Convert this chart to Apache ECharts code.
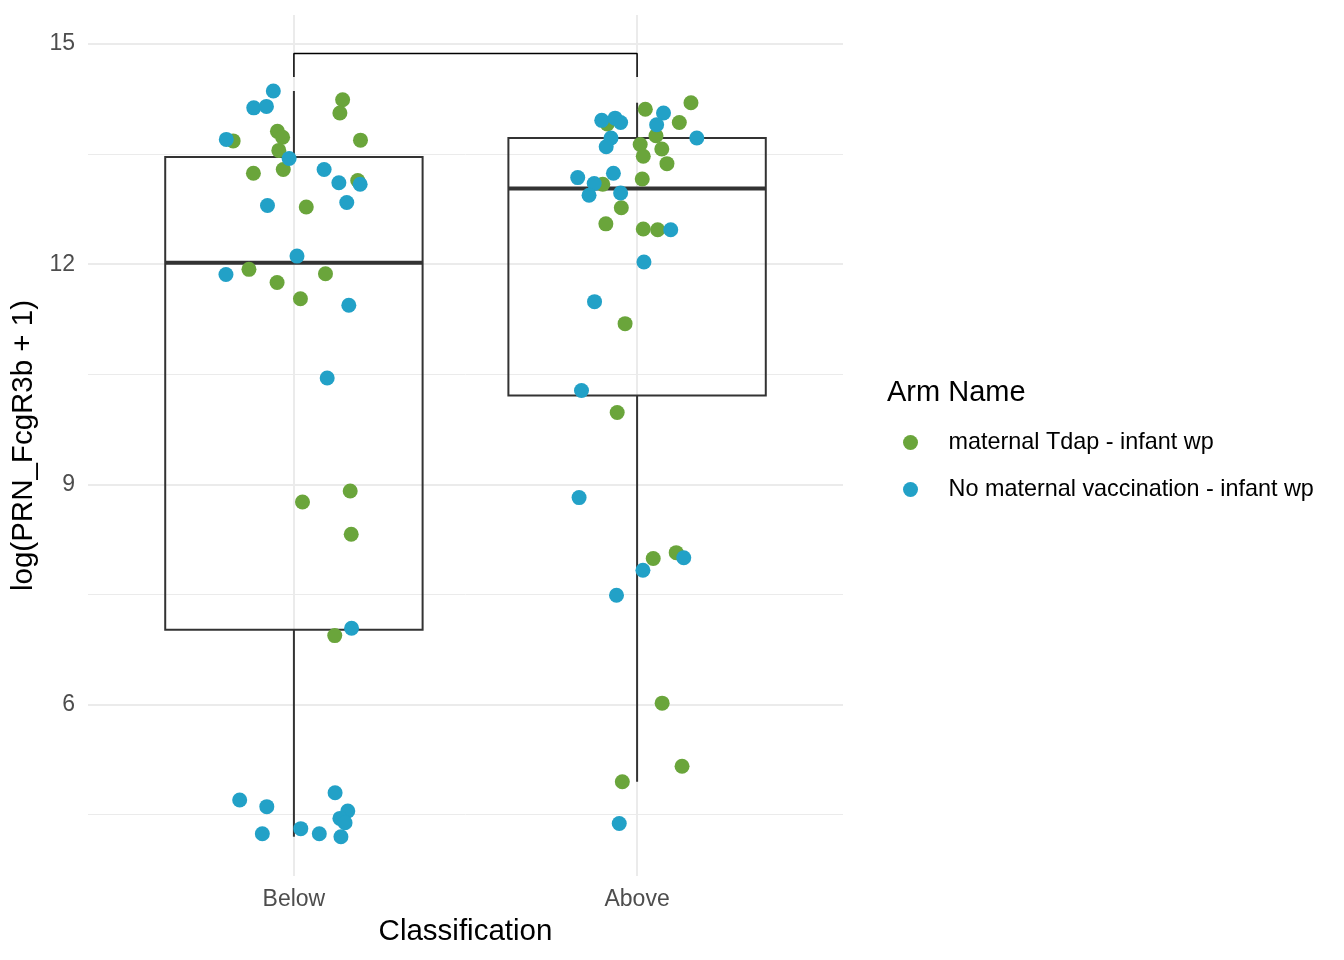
<!DOCTYPE html>
<html>
<head>
    <meta charset="utf-8">
    <title>PRN_FcgR3b by Classification</title>
    <script src="https://cdn.jsdelivr.net/npm/echarts@6/dist/echarts.min.js"></script>
    <style>
        html, body { margin: 0; padding: 0; background: #fff; }
        #container { width: 1344px; height: 960px; }
    </style>
</head>
<body>
    <div id="container"></div>
    <script type="text/javascript">
        // categories sit at x = 1, 2 (ggplot style discrete positions)
        var categories = ['Below', 'Above'];
        var armNames = ['maternal Tdap - infant wp', 'No maternal vaccination - infant wp'];

        // jittered points [x, y]
        var tdapPoints = [
            [1.142, 14.24], [1.134, 14.06], [0.823, 13.68], [0.952, 13.81], [0.967, 13.73],
            [1.194, 13.69], [0.956, 13.55], [0.969, 13.29], [0.882, 13.24], [1.186, 13.14],
            [1.036, 12.78], [0.869, 11.93], [1.092, 11.87], [0.951, 11.75], [1.019, 11.53],
            [1.164, 8.91], [1.025, 8.76], [1.167, 8.32], [1.119, 6.94],
            [2.157, 14.20], [2.024, 14.11], [1.913, 13.91], [2.123, 13.93], [2.055, 13.75],
            [2.009, 13.63], [2.072, 13.57], [2.018, 13.47], [2.087, 13.37], [2.015, 13.16],
            [1.900, 13.09], [1.954, 12.77], [1.909, 12.55], [2.018, 12.48], [2.060, 12.47],
            [1.965, 11.19], [1.942, 9.98], [2.047, 7.99], [2.114, 8.07], [2.073, 6.02],
            [2.131, 5.16], [1.957, 4.95]
        ];
        var noVaxPoints = [
            [0.940, 14.36], [0.883, 14.13], [0.920, 14.15], [0.803, 13.70], [0.986, 13.44],
            [1.088, 13.29], [1.131, 13.11], [1.193, 13.09], [0.923, 12.80], [1.154, 12.84],
            [1.009, 12.11], [0.802, 11.86], [1.160, 11.44], [1.097, 10.45], [1.168, 7.04],
            [0.842, 4.70], [0.921, 4.61], [0.908, 4.24], [1.020, 4.31], [1.074, 4.24],
            [1.120, 4.80], [1.157, 4.55], [1.134, 4.45], [1.149, 4.39], [1.137, 4.20],
            [1.897, 13.96], [1.936, 13.99], [1.952, 13.93], [2.077, 14.06], [2.057, 13.90],
            [2.174, 13.72], [1.924, 13.72], [1.910, 13.60], [1.827, 13.18], [1.931, 13.24],
            [1.875, 13.10], [1.860, 12.94], [1.952, 12.97], [2.098, 12.47], [2.020, 12.03],
            [1.876, 11.49], [1.838, 10.28], [1.831, 8.82], [2.136, 8.00], [2.017, 7.83],
            [1.940, 7.49], [1.948, 4.38]
        ];

        // [x, lower whisker, Q1, median, Q3, upper whisker]
        var boxStats = [
            [1, 4.20, 7.02, 12.02, 13.46, 14.36],
            [2, 4.95, 10.21, 13.03, 13.72, 14.20]
        ];

        // comparison bracket between the two groups
        var bracket = [[1, 14.55], [1, 14.87], [2, 14.87], [2, 14.55]];

        var xTicks = [1, 2];
        var yTicks = [6, 9, 12, 15];
        var yMinor = [4.5, 7.5, 10.5, 13.5];

        var font = 'Liberation Sans, Arial, Helvetica, sans-serif';
        var gridColor = '#ebebeb';
        var boxHalf = 0.375;

        var myChart = echarts.init(document.getElementById('container'));

        function renderBox(params, api) {
            var x = api.value(0);
            var lo = api.coord([x - boxHalf, api.value(2)]);
            var hi = api.coord([x + boxHalf, api.value(4)]);
            var med = api.coord([x - boxHalf, api.value(3)]);
            var wMin = api.coord([x, api.value(1)]);
            var wMax = api.coord([x, api.value(5)]);
            var st = { stroke: '#333333', lineWidth: 2, fill: null };
            return {
                type: 'group',
                children: [
                    { type: 'line', shape: { x1: wMin[0], y1: wMin[1], x2: wMin[0], y2: lo[1] }, style: st },
                    { type: 'line', shape: { x1: wMax[0], y1: hi[1], x2: wMax[0], y2: wMax[1] }, style: st },
                    { type: 'rect', shape: { x: lo[0], y: hi[1], width: hi[0] - lo[0], height: lo[1] - hi[1] }, style: st },
                    { type: 'line', shape: { x1: med[0], y1: med[1], x2: hi[0], y2: med[1] },
                      style: { stroke: '#333333', lineWidth: 4 } }
                ]
            };
        }

        var gridLines = [];
        yTicks.forEach(function (v) { gridLines.push({ yAxis: v, lineStyle: { width: 2 } }); });
        yMinor.forEach(function (v) { gridLines.push({ yAxis: v, lineStyle: { width: 1 } }); });
        xTicks.forEach(function (v) { gridLines.push({ xAxis: v, lineStyle: { width: 2 } }); });

        var option = {
            animation: false,
            textStyle: { fontFamily: font },
            title: {
                text: 'Arm Name',
                left: 887,
                top: 378,
                padding: 0,
                textStyle: { fontFamily: font, fontSize: 29, fontWeight: 'normal', color: '#000' }
            },
            legend: {
                data: armNames,
                orient: 'vertical',
                left: 903,
                top: 431,
                icon: 'circle',
                itemWidth: 66,
                itemHeight: 15,
                itemGap: 24,
                padding: 0,
                textStyle: { fontFamily: font, fontSize: 23.4, lineHeight: 23, color: '#000' }
            },
            grid: {
                left: 88,
                right: 501,
                top: 15,
                bottom: 84,
                containLabel: false
            },
            xAxis: {
                type: 'value',
                min: 0.4,
                max: 2.6,
                name: 'Classification',
                nameLocation: 'middle',
                nameGap: 41,
                nameTextStyle: { fontFamily: font, fontSize: 29.5, color: '#000' },
                axisLine: { show: false },
                axisTick: { show: false, customValues: xTicks },
                splitLine: { show: false },
                axisLabel: {
                    customValues: xTicks,
                    margin: 12,
                    fontFamily: font,
                    fontSize: 23,
                    color: '#4d4d4d',
                    formatter: function (v) { return categories[Math.round(v) - 1]; }
                }
            },
            yAxis: {
                type: 'value',
                min: 3.665,
                max: 15.395,
                name: 'log(PRN_FcgR3b + 1)',
                nameLocation: 'middle',
                nameRotate: 90,
                nameGap: 47,
                nameTextStyle: { fontFamily: font, fontSize: 29.5, color: '#000' },
                axisLine: { show: false },
                axisTick: { show: false, customValues: yTicks },
                splitLine: { show: false },
                axisLabel: {
                    customValues: yTicks,
                    margin: 13,
                    fontFamily: font,
                    fontSize: 23,
                    color: '#4d4d4d'
                }
            },
            series: [
                {
                    name: 'grid',
                    type: 'line',
                    data: [],
                    z: 0,
                    silent: true,
                    markLine: {
                        z: 0,
                        silent: true,
                        symbol: 'none',
                        animation: false,
                        label: { show: false },
                        lineStyle: { color: gridColor, type: 'solid' },
                        data: gridLines
                    }
                },
                {
                    name: 'box',
                    type: 'custom',
                    renderItem: renderBox,
                    data: boxStats,
                    encode: { x: 0, y: [1, 2, 3, 4, 5] },
                    z: 2,
                    silent: true
                },
                {
                    name: 'bracket',
                    type: 'line',
                    data: bracket,
                    symbol: 'none',
                    z: 2,
                    silent: true,
                    lineStyle: { color: '#000', width: 1.5 }
                },
                {
                    name: armNames[0],
                    type: 'scatter',
                    data: tdapPoints,
                    symbolSize: 15,
                    z: 3,
                    itemStyle: { color: '#6aa53b', opacity: 1 }
                },
                {
                    name: armNames[1],
                    type: 'scatter',
                    data: noVaxPoints,
                    symbolSize: 15,
                    z: 3,
                    itemStyle: { color: '#22a1c7', opacity: 1 }
                }
            ]
        };

        myChart.setOption(option);
    </script>
</body>
</html>
